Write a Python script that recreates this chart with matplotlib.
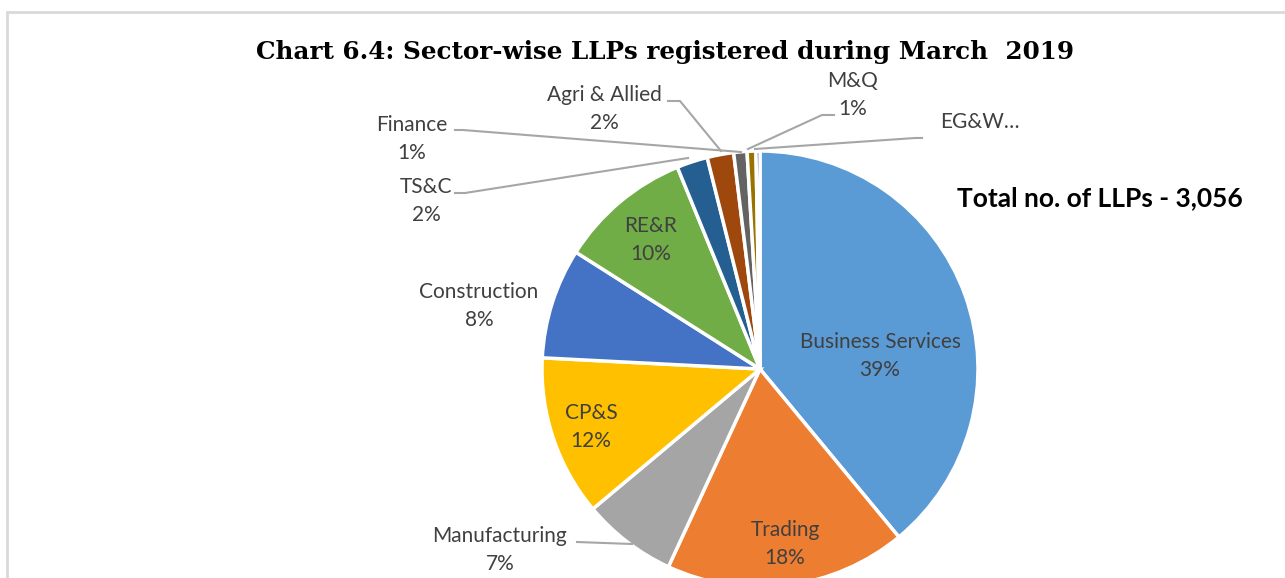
import matplotlib
matplotlib.use("Agg")
import matplotlib.pyplot as plt
from matplotlib.patches import Rectangle

# sector-wise LLP counts (total 3,056)
sectors = ["Business Services", "Trading", "Manufacturing", "CP&S", "Construction",
           "RE&R", "TS&C", "Agri & Allied", "Finance", "M&Q", "EG&W"]
counts = [1192, 547, 214, 364, 250, 300, 70, 60, 30, 20, 9]
colors = ["#5B9BD5", "#ED7D31", "#A5A5A5", "#FFC000", "#4472C4", "#70AD47",
          "#255E91", "#9E480E", "#636363", "#997300", "#264478"]

W, H = 1285, 578
fig = plt.figure(figsize=(W / 100, H / 100), dpi=100)
ax = fig.add_axes([0, 0, 1, 1])

def py(y):
    # pixel row (from top) -> data y
    return H - y

total = sum(counts)
pct = [f"{round(c / total * 100):.0f}%" for c in counts]

ax.pie(counts, colors=colors, startangle=90, counterclock=False,
       center=(760, py(369)), radius=218,
       wedgeprops=dict(edgecolor="white", linewidth=2.5))
ax.set_xlim(0, W)
ax.set_ylim(0, H)
ax.set_aspect("equal")
ax.axis("off")

# chart frame (runs off the right and bottom edges)
ax.add_patch(Rectangle((7, -20), W + 20, py(12) + 20, fill=False,
                       edgecolor="#D9D9D9", linewidth=2, zorder=0))

lab = dict(family="Lato", fontsize=15, color="#404040", ha="center",
           va="center", linespacing=1.5)

# labels inside the slices
inside = {"Business Services": (880, 356), "Trading": (785, 544),
          "CP&S": (591, 427), "RE&R": (651, 240)}
# labels outside the slices
outside = {"Manufacturing": (500, 550), "Construction": (479, 306),
           "TS&C": (426, 201), "Finance": (412, 139),
           "Agri & Allied": (604, 109), "M&Q": (853, 95)}

for name, p in zip(sectors, pct):
    if name in inside:
        x, y = inside[name]
        ax.text(x, py(y), f"{name}\n{p}", **lab)
    elif name in outside:
        x, y = outside[name]
        ax.text(x, py(y), f"{name}\n{p}", **lab)

ax.text(980, py(122), "EG&W…", **lab)

# leader lines
leaders = [
    [(577, 542), (632, 544)],
    [(455, 193), (465, 193), (688, 158)],
    [(455, 130), (463, 130), (741, 152)],
    [(668, 101), (680, 101), (721, 151)],
    [(834, 115), (822, 115), (748, 149)],
    [(922, 138), (915, 138), (755, 149)],
]
for pts in leaders:
    ax.plot([p[0] for p in pts], [py(p[1]) for p in pts],
            color="#A6A6A6", linewidth=1.5, zorder=3)

ax.text(665, py(52), "Chart 6.4: Sector-wise LLPs registered during March  2019",
        family="DejaVu Serif", fontweight="bold", fontsize=17.7,
        ha="center", va="center", color="black")
ax.text(1100, py(198), f"Total no. of LLPs - {total:,}", family="Lato",
        fontweight="bold", fontsize=19, ha="center", va="center", color="black")

fig.savefig("out.png", dpi=100)
